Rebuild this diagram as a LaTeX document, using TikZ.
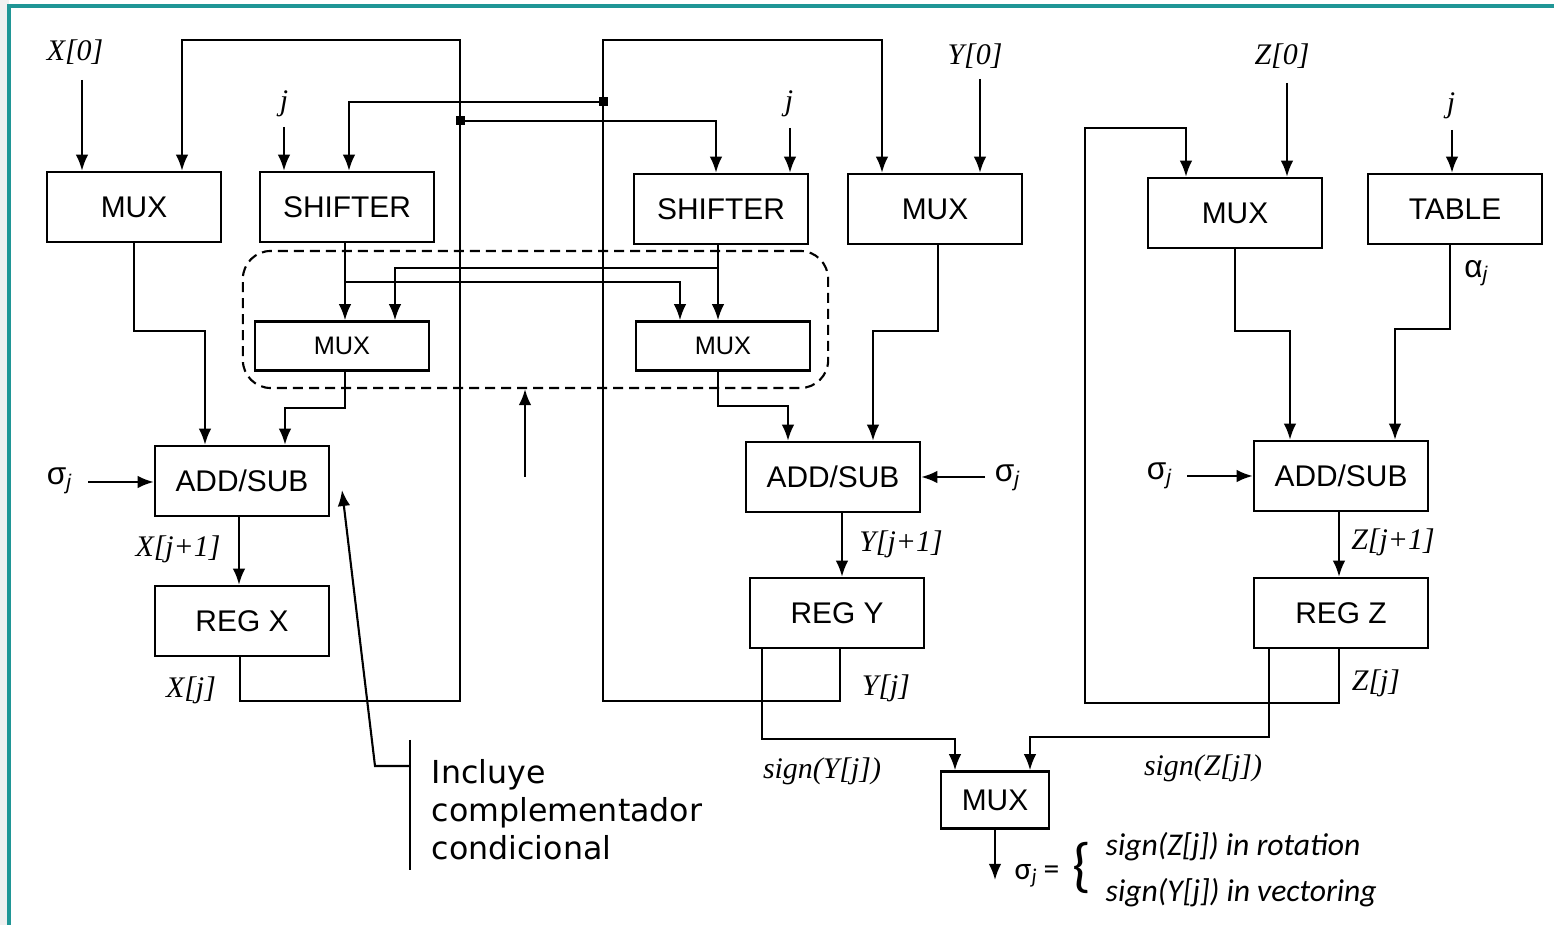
\documentclass[tikz,border=0pt]{standalone}
\usepackage{fontspec}
\setmainfont{Liberation Serif}
\newfontfamily\boxfont{Liberation Sans}
\newfontfamily\notefont{DejaVu Sans}
\newfontfamily\carlfont{Carlito}
\usetikzlibrary{arrows.meta,calc}
\definecolor{frameteal}{RGB}{32,150,150}

\tikzset{
  block/.style={draw, line width=0.7pt, minimum width=17.4mm, minimum height=7mm,
    inner sep=0pt, font=\boxfont\fontsize{8.5}{10}\selectfont},
  smallblock/.style={block, minimum height=4.9mm, font=\boxfont\fontsize{7.2}{9}\selectfont},
  group/.style={draw, dashed, dash pattern=on 1mm off 0.6mm, line width=0.6pt,
    rounded corners=2.8mm, minimum width=58.5mm, minimum height=13.7mm},
  sig/.style={font=\itshape\fontsize{8.5}{10}\selectfont, inner sep=0pt},
  greek/.style={font=\boxfont\fontsize{9}{10}\selectfont, inner sep=0pt},
  formula/.style={font=\carlfont\fontsize{9}{11}\selectfont, inner sep=0pt},
  note/.style={font=\notefont\fontsize{9}{10.8}\selectfont, align=left, inner sep=0pt},
  arr/.style={line width=0.6pt, -{Latex[length=1.6mm,width=1.25mm]}},
  wire/.style={line width=0.6pt},
  tap/.style={fill, rectangle, minimum size=0.9mm, inner sep=0pt},
}

\begin{document}
\begin{tikzpicture}[x=0.01cm, y=-0.01cm]
  \useasboundingbox (0,0) rectangle (1554,925);

  % Frame
  \fill[black!6] (0,0) rectangle (9,925);
  \draw[frameteal, line width=1pt] (9,925) -- (9,6) -- (1554,6);

  % Top row
  \node[block] (muxx) at (134,207) {MUX};
  \node[block] (shl) at (347,207) {SHIFTER};
  \node[block] (shr) at (721,209) {SHIFTER};
  \node[block] (muxy) at (935,209) {MUX};
  \node[block] (muxz) at (1235,213) {MUX};
  \node[block] (table) at (1455,209) {TABLE};

  % Selector muxes
  \node[group] (grp) at (535.5,319.5) {};
  \node[smallblock] (smuxl) at (342,346) {MUX};
  \node[smallblock] (smuxr) at (723,346) {MUX};

  % Adders and registers
  \node[block] (addx) at (242,481) {ADD/SUB};
  \node[block] (addy) at (833,477) {ADD/SUB};
  \node[block] (addz) at (1341,476) {ADD/SUB};
  \node[block] (regx) at (242,621) {REG X};
  \node[block] (regy) at (837,613) {REG Y};
  \node[block] (regz) at (1341,613) {REG Z};
  \node[block, minimum width=10.8mm, minimum height=5.7mm] (muxf) at (995,800) {MUX};

  % Inputs
  \node[sig] (lx0) at (75,52) {X[0]};
  \node[sig] (ljl) at (284,104) {j};
  \node[sig] (ljr) at (789,104) {j};
  \node[sig] (ly0) at (975,56) {Y[0]};
  \node[sig] (lz0) at (1282,56) {Z[0]};
  \node[sig] (ljt) at (1451,106) {j};
  \coordinate (inx) at (82,80);
  \coordinate (injl) at (284,127);
  \coordinate (injr) at (790,128);
  \coordinate (iny) at (980,79);
  \coordinate (inz) at (1287,83);
  \coordinate (injt) at (1452,130);
  \draw[arr] (inx) -- (inx |- muxx.north);
  \draw[arr] (injl) -- (injl |- shl.north);
  \draw[arr] (injr) -- (injr |- shr.north);
  \draw[arr] (iny) -- (iny |- muxy.north);
  \draw[arr] (inz) -- (inz |- muxz.north);
  \draw[arr] (injt) -- (injt |- table.north);

  % Feedback loops
  \draw[arr] ($(regx.south)+(-2,0)$) |- (460,701) -- (460,40) -| ($(muxx.north)+(48,0)$);
  \draw[arr] ($(regy.south)+(3,0)$) |- (603,701) -- (603,40) -| ($(muxy.north)+(-53,0)$);
  \draw[arr] ($(regz.south)+(-2,0)$) |- (1085,703) -- (1085,128) -| ($(muxz.north)+(-49,0)$);

  % Cross taps to shifters
  \node[tap] (xtap) at (460,121) {};
  \node[tap] (ytap) at (603,102) {};
  \draw[arr] (xtap.center) -| ($(shr.north)+(-5,0)$);
  \draw[arr] (ytap.center) -| ($(shl.north)+(2,0)$);

  % Shifters to selector muxes
  \draw[arr] ($(shl.south)+(-2,0)$) -- ($(smuxl.north)+(3,0)$);
  \draw[arr] ($(shl.south)+(-2,39)$) -| ($(smuxr.north)+(-43,0)$);
  \draw[arr] ($(shr.south)+(-3,0)$) -- ($(smuxr.north)+(-5,0)$);
  \draw[arr] ($(shr.south)+(-3,23)$) -| ($(smuxl.north)+(53,0)$);

  % Into the adders
  \draw[arr] (muxx.south) -- ++(0,88) -| ($(addx.north)+(-37,0)$);
  \draw[arr] ($(smuxl.south)+(3,0)$) -- ++(0,36) -| ($(addx.north)+(43,0)$);
  \draw[arr] ($(smuxr.south)+(-5,0)$) -- ++(0,34) -| ($(addy.north)+(-45,0)$);
  \draw[arr] ($(muxy.south)+(3,0)$) -- ++(0,86) -| ($(addy.north)+(40,0)$);
  \draw[arr] (muxz.south) -- ++(0,82) -| ($(addz.north)+(-51,0)$);
  \draw[arr] ($(table.south)+(-5,0)$) -- ++(0,84) -| ($(addz.north)+(54,0)$);
  \node[greek] (la) at (1477,273) {α\textsubscript{\textit{j}}};

  % Control of the selector
  \coordinate (ctl) at (525,477);
  \draw[arr] (ctl) -- (ctl |- grp.south);

  % Sigma inputs
  \node[greek] (lsx) at (60,481) {σ\textsubscript{\textit{j}}};
  \node[greek] (lsy) at (1008,478) {σ\textsubscript{\textit{j}}};
  \node[greek] (lsz) at (1160,476) {σ\textsubscript{\textit{j}}};
  \coordinate (sgx) at (88,482);
  \coordinate (sgy) at (985,477);
  \coordinate (sgz) at (1187,476);
  \draw[arr] (sgx) -- (sgx -| addx.west);
  \draw[arr] (sgy) -- (sgy -| addy.east);
  \draw[arr] (sgz) -- (sgz -| addz.west);

  % Adders to registers
  \draw[arr] ($(addx.south)+(-3,0)$) -- ($(regx.north)+(-3,0)$);
  \draw[arr] ($(addy.south)+(9,0)$) -- ($(regy.north)+(5,0)$);
  \draw[arr] ($(addz.south)+(-2,0)$) -- ($(regz.north)+(-2,0)$);
  \node[sig] (lxn) at (178,549) {X[j+1]};
  \node[sig] (lyn) at (901,544) {Y[j+1]};
  \node[sig] (lzn) at (1393,542) {Z[j+1]};
  \node[sig] (lxj) at (191,690) {X[j]};
  \node[sig] (lyj) at (886,688) {Y[j]};
  \node[sig] (lzj) at (1376,683) {Z[j]};

  % Sign selection
  \draw[arr] ($(regy.south)+(-75,0)$) |- ($(muxf.north)+(-40,-31)$) -- ($(muxf.north)+(-40,0)$);
  \draw[arr] ($(regz.south)+(-72,0)$) |- ($(muxf.north)+(35,-33)$) -- ($(muxf.north)+(35,0)$);
  \node[sig] (lsgy) at (822,771) {sign(Y[j])};
  \node[sig] (lsgz) at (1203,768) {sign(Z[j])};
  \coordinate (sout) at (995,880);
  \draw[arr] (muxf.south) -- (sout);
  \node[formula] (seq) at (1037,876) {σ\textsubscript{\textit{j}}\,=};
  \node[formula, font=\carlfont\fontsize{17}{17}\selectfont] (brace) at (1082,868) {\{};
  \node[formula, anchor=west, font=\carlfont\itshape\fontsize{9}{11}\selectfont] (rot) at (1105,847) {sign(Z[j]) in rotation};
  \node[formula, anchor=west, font=\carlfont\itshape\fontsize{9}{11}\selectfont] (vec) at (1105,893) {sign(Y[j]) in vectoring};

  % Callout
  \node[note, anchor=north west] (note) at (431,759) {Incluye\\complementador\\condicional};
  \coordinate (ctip) at (342,490);
  \draw[wire] (410,740) -- (410,870);
  \draw[arr] (410,766) -- (375,766) -- (ctip);
\end{tikzpicture}
\end{document}
